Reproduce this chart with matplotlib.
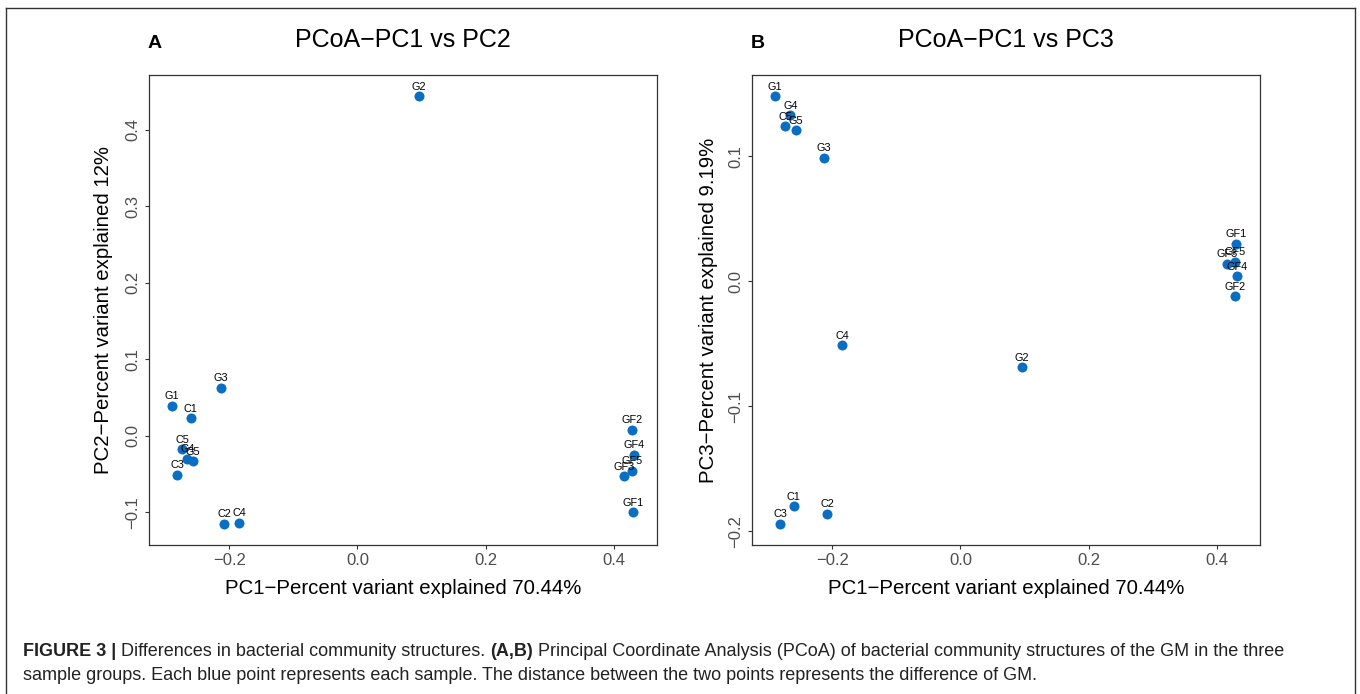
import matplotlib
matplotlib.use("Agg")
import matplotlib.pyplot as plt
from matplotlib.ticker import FuncFormatter
from matplotlib.lines import Line2D

plt.rcParams['font.family'] = ['Liberation Sans', 'DejaVu Sans']

# ---- data ----
samples = ["C1", "C2", "C3", "C4", "C5",
           "G1", "G2", "G3", "G4", "G5",
           "GF1", "GF2", "GF3", "GF4", "GF5"]
pc1 = [-0.260, -0.208, -0.281, -0.184, -0.273,
       -0.289, 0.096, -0.213, -0.265, -0.257,
       0.429, 0.428, 0.416, 0.431, 0.428]
pc2 = [0.023, -0.115, -0.051, -0.114, -0.0175,
       0.039, 0.444, 0.063, -0.030, -0.033,
       -0.100, 0.008, -0.053, -0.025, -0.046]
pc3 = [-0.180, -0.186, -0.194, -0.051, 0.124,
       0.148, -0.069, 0.099, 0.133, 0.121,
       0.030, -0.012, 0.014, 0.004, 0.0155]

titles = ["PCoA\u2212PC1 vs PC2", "PCoA\u2212PC1 vs PC3"]
panel_letters = ["A", "B"]
xlabel = "PC1\u2212Percent variant explained 70.44%"
ylabels = ["PC2\u2212Percent variant explained 12%",
           "PC3\u2212Percent variant explained 9.19%"]
xticks = [-0.2, 0.0, 0.2, 0.4]
yticks_list = [[-0.1, 0.0, 0.1, 0.2, 0.3, 0.4], [-0.2, -0.1, 0.0, 0.1]]

caption_line1 = [("FIGURE 3 |", "bold"),
                 (" Differences in bacterial community structures. ", "normal"),
                 ("(A,B)", "bold"),
                 (" Principal Coordinate Analysis (PCoA) of bacterial community structures of the GM in the three", "normal")]
caption_line2 = ("sample groups. Each blue point represents each sample. "
                 "The distance between the two points represents the difference of GM.")

POINT_COLOR = "#0a6fc2"
W, H = 1360, 694

fig = plt.figure(figsize=(W / 100, H / 100), dpi=100)

# outer frame (left, top, right)
frame_col = "#333333"
fig.add_artist(Line2D([6 / W, 6 / W], [0, 1 - 8 / H], color=frame_col, lw=1.0, transform=fig.transFigure))
fig.add_artist(Line2D([6 / W, 1355 / W], [1 - 8 / H, 1 - 8 / H], color=frame_col, lw=1.0, transform=fig.transFigure))
fig.add_artist(Line2D([1355 / W, 1355 / W], [0, 1 - 8 / H], color=frame_col, lw=1.0, transform=fig.transFigure))

fmt = FuncFormatter(lambda v, p: f"{v:.1f}".replace("-", "\u2212"))


def expand(vals, frac=0.05):
    lo, hi = min(vals), max(vals)
    r = hi - lo
    return lo - frac * r, hi + frac * r


panels = [(149, pc2), (752, pc3)]
for i, (left_px, yvals) in enumerate(panels):
    ax = fig.add_axes([left_px / W, (H - 545) / H, 508 / W, 470 / H])
    ax.scatter(pc1, yvals, s=52, color=POINT_COLOR, zorder=3, linewidths=0)
    for name, xv, yv in zip(samples, pc1, yvals):
        ax.annotate(name, (xv, yv), xytext=(0, 6.8), textcoords="offset points",
                    ha="center", va="center", fontsize=7.8, color="black", zorder=4)
    ax.set_xlim(*expand(pc1))
    ax.set_ylim(*expand(yvals))
    ax.set_xticks(xticks)
    ax.set_yticks(yticks_list[i])
    ax.xaxis.set_major_formatter(fmt)
    ax.yaxis.set_major_formatter(fmt)
    ax.tick_params(direction="out", length=3, width=0.8, color="#333333",
                   labelcolor="#4D4D4D", labelsize=12, pad=3)
    for lab in ax.get_yticklabels():
        lab.set_rotation(90)
        lab.set_va("center")
    for sp in ax.spines.values():
        sp.set_color("#333333")
        sp.set_linewidth(0.9)
    ax.set_xlabel(xlabel, fontsize=14.7, color="black")
    ax.xaxis.set_label_coords(0.5, -(588 - 545) / 470)
    ax.xaxis.label.set_va("center")
    ax.set_ylabel(ylabels[i], fontsize=14.7, color="black")
    ax.yaxis.set_label_coords((104 - 149) / 508 if i == 0 else (708 - 752) / 508, 0.5)
    ax.yaxis.label.set_va("center")
    cx = (left_px + 254) / W
    fig.text(cx, 1 - 40 / H, titles[i], ha="center", va="center", fontsize=18, color="black")
    fig.text((left_px + 6) / W, 1 - 43 / H, panel_letters[i], ha="center", va="center",
             fontsize=14, fontweight="bold", color="black")

# caption with mixed weights
renderer = fig.canvas.get_renderer()
cap_size = 13
x_px = 23
y1 = 1 - 651 / H
for txt, weight in caption_line1:
    fig.text(x_px / W, y1, txt, ha="left", va="center", fontsize=cap_size,
             fontweight=weight, color="#222222")
    probe = fig.text(0, 0, "|" + txt + "|", fontsize=cap_size, fontweight=weight)
    probe2 = fig.text(0, 0, "||", fontsize=cap_size, fontweight=weight)
    w = probe.get_window_extent(renderer).width - probe2.get_window_extent(renderer).width
    probe.remove()
    probe2.remove()
    x_px += w
fig.text(23 / W, 1 - 676 / H, caption_line2, ha="left", va="center", fontsize=cap_size, color="#222222")

fig.savefig("out.png", dpi=100)
